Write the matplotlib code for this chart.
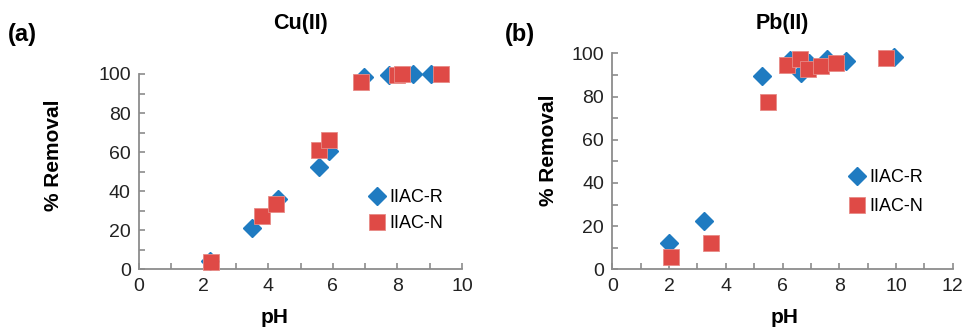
import matplotlib
matplotlib.use("Agg")
import matplotlib.pyplot as plt
from matplotlib.ticker import MultipleLocator

plt.rcParams['font.family'] = ['Liberation Sans', 'DejaVu Sans']

# Cu(II) removal vs pH
cu_ph_r = [2.2, 3.5, 4.29, 5.56, 5.88, 6.97, 7.75, 8.48, 9.05]
cu_rem_r = [4.5, 21.3, 36.0, 52.5, 60.6, 98.6, 99.5, 99.8, 100.0]
cu_ph_n = [2.23, 3.8, 4.23, 5.57, 5.87, 6.86, 7.98, 8.14, 9.34]
cu_rem_n = [3.9, 27.5, 33.3, 61.0, 66.0, 95.8, 99.5, 100.0, 100.0]

# Pb(II) removal vs pH
pb_ph_r = [2.01, 3.24, 5.29, 6.26, 6.65, 6.93, 7.56, 8.24, 9.93]
pb_rem_r = [12.1, 22.4, 89.5, 96.9, 91.0, 95.4, 97.2, 96.6, 98.5]
pb_ph_n = [2.07, 3.47, 5.5, 6.15, 6.62, 6.91, 7.35, 7.89, 9.65]
pb_rem_n = [5.6, 12.4, 77.4, 94.6, 97.5, 92.6, 94.1, 95.4, 98.0]

BLUE = '#1f7bc1'
RED = '#df4a46'
AXIS_GREY = '#8c8c8c'

W, H = 963, 327
fig = plt.figure(figsize=(W / 100, H / 100), dpi=100)


def px_axes(left, top, right, bottom):
    return fig.add_axes([left / W, 1 - bottom / H, (right - left) / W, (bottom - top) / H])


def style_axes(ax, xmax, xlab_at, ylab_at):
    ax.set_xlim(0, xmax)
    ax.set_ylim(0, 100)
    ax.xaxis.set_major_locator(MultipleLocator(2))
    ax.xaxis.set_minor_locator(MultipleLocator(1))
    ax.yaxis.set_major_locator(MultipleLocator(20))
    ax.yaxis.set_minor_locator(MultipleLocator(10))
    for side in ('top', 'right'):
        ax.spines[side].set_visible(False)
    for side in ('left', 'bottom'):
        ax.spines[side].set_color(AXIS_GREY)
        ax.spines[side].set_linewidth(1.3)
    ax.tick_params(which='both', direction='in', color=AXIS_GREY, width=1.2, length=4)
    ax.tick_params(which='major', labelsize=14, pad=6, labelcolor='#222222')
    ax.set_xlabel('pH', fontsize=15, fontweight='bold')
    ax.set_ylabel('% Removal', fontsize=15, fontweight='bold')
    ax.xaxis.set_label_coords(*xlab_at)
    ax.yaxis.set_label_coords(*ylab_at)


def draw(ax, xr, yr, xn, yn, legend_at, spacing):
    ax.plot(xr, yr, ls='none', marker='D', ms=9.5, color=BLUE, mec=BLUE,
            label='IIAC-R', clip_on=False, zorder=3)
    ax.plot(xn, yn, ls='none', marker='s', ms=11, color=RED, mec='#e88a86', mew=0.6,
            label='IIAC-N', clip_on=False, zorder=4)
    ax.legend(loc='center left', bbox_to_anchor=legend_at, frameon=False,
              fontsize=13, handlelength=1.0, handletextpad=0.15,
              borderpad=0, borderaxespad=0, labelspacing=spacing)


ax1 = px_axes(139, 74, 462, 269.3)
style_axes(ax1, 10, (0.421, -0.2), (-0.235, 0.585))
draw(ax1, cu_ph_r, cu_rem_r, cu_ph_n, cu_rem_n, (0.71, 0.3), 0.5)

ax2 = px_axes(612.3, 53.3, 952.7, 269.3)
style_axes(ax2, 12, (0.507, -0.18), (-0.16, 0.552))
draw(ax2, pb_ph_r, pb_rem_r, pb_ph_n, pb_rem_n, (0.693, 0.358), 0.65)

# titles and panel letters placed in figure pixels
fig.text(300 / W, 1 - 23.5 / H, 'Cu(II)', fontsize=15.5, fontweight='bold', ha='center', va='center')
fig.text(782 / W, 1 - 23.5 / H, 'Pb(II)', fontsize=15.5, fontweight='bold', ha='center', va='center')
fig.text(8 / W, 1 - 34 / H, '(a)', fontsize=17, fontweight='bold', ha='left', va='center')
fig.text(505 / W, 1 - 34 / H, '(b)', fontsize=17, fontweight='bold', ha='left', va='center')

fig.savefig('out.png', dpi=100)
